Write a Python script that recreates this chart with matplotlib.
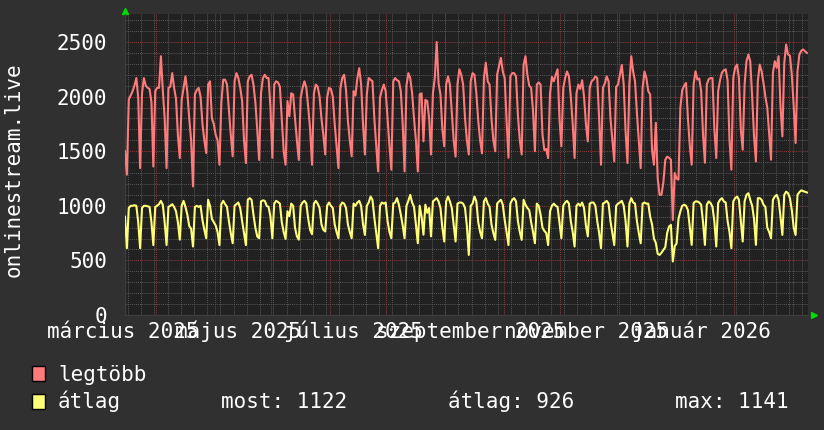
import matplotlib
matplotlib.use('Agg')
import matplotlib.pyplot as plt
from matplotlib.patches import Rectangle
import numpy as np
from datetime import datetime

plt.rcParams['font.family'] = 'DejaVu Sans Mono'

# daily values, one row per week (row ends on the weekend dip)
legtobb = [
    1500, 1285,
    1975, 2010, 2050, 2100, 2170, 1990, 1345,
    2030, 2170, 2100, 2080, 2070, 1950, 1360,
    2050, 2080, 2080, 2370, 2060, 1800, 1345,
    2080, 2090, 2215, 2080, 1980, 1650, 1437,
    1970, 2080, 2185, 2040, 1800, 1600, 1177,
    2020, 2060, 2080, 2000, 1750, 1600, 1483,
    2110, 2140, 1800, 1750, 1650, 1600, 1376,
    1945, 2155, 2155, 2110, 1880, 1650, 1453,
    2140, 2215, 2170, 2080, 1960, 1600, 1391,
    2140, 2185, 2200, 2110, 1950, 1700, 1420,
    2030, 2170, 2200, 2170, 2170, 1900, 1440,
    2110, 2140, 2130, 2090, 1800, 1500, 1376,
    1960, 1820, 2030, 2020, 1800, 1600, 1420,
    1990, 2080, 2140, 2080, 1900, 1700, 1376,
    2030, 2110, 2090, 2000, 1800, 1650, 1470,
    1990, 2080, 2070, 2000, 1750, 1550, 1345,
    2070, 2170, 2200, 2060, 1780, 1600, 1453,
    2050, 2010, 2170, 2260, 2110, 1750, 1470,
    2020, 2170, 2155, 2140, 1800, 1550, 1315,
    1990, 2060, 2110, 2050, 1800, 1550, 1330,
    2140, 2170, 2150, 2140, 2050, 1750, 1315,
    2100, 2215, 2170, 2030, 1800, 1600, 1315,
    2020, 2030, 1590, 1970, 1960, 1800, 1470,
    2030, 2170, 2500, 2120, 2020, 1700, 1545,
    2110, 2185, 2110, 1850, 1600, 1450,
    2110, 2250, 2200, 2110, 1800, 1600, 1470,
    2140, 2215, 2200, 2030, 1780, 1600, 1480,
    2170, 2310, 2140, 2110, 1800, 1600, 1500,
    2200, 2280, 2355, 2230, 2170, 1780, 1440,
    2185, 2215, 2215, 2185, 1830, 1600, 1470,
    2290, 2370, 2200, 2100, 2080, 1870, 1500,
    2110, 2130, 2110, 1650, 1510, 1520, 1437,
    2030, 2180, 2140, 2200, 2250, 1800, 1545,
    2080, 2170, 2230, 2185, 2000, 1750, 1437,
    2030, 2110, 2070, 2150, 2000, 1750, 1590,
    2080, 2140, 2155, 2185, 2170, 1800, 1376,
    2080, 2120, 2185, 2140, 1800, 1600, 1407,
    2090, 2110, 2200, 2290, 2110, 1680, 1391,
    2110, 2370, 2230, 2140, 1850, 1600, 1345,
    2080, 2230, 2170, 2050, 2020, 1510, 1376,
    1760, 1250, 1100, 1100, 1214, 1420, 1450, 1440, 1422, 870,
    1300, 1250, 1240, 1900, 2060, 2100, 2125, 1800, 1550, 1376,
    2110, 2232, 2156, 2165, 2050, 1650, 1394,
    2110, 2160, 2170, 2170, 1700, 1437,
    2050, 2150, 2220, 2240, 2250, 2150, 1605, 1330,
    2170, 2265, 2293, 2170, 1697, 1514,
    2110, 2324, 2385, 2324, 2000, 1636, 1406,
    2140, 2293, 2232, 2125, 2000, 1900, 1667, 1422,
    2217, 2324, 2263, 2370, 1911, 1636,
    2308, 2477, 2385, 2375, 2200, 1911, 1575,
    2232, 2385, 2420, 2431, 2416, 2400,
]

atlag = [
    900, 612,
    980, 1000, 1000, 1005, 1000, 850, 612,
    980, 1000, 1000, 995, 990, 850, 640,
    990, 1000, 1015, 1045, 1010, 850, 640,
    990, 1000, 1015, 990, 950, 850, 690,
    1000, 1045, 990, 920, 815, 790, 627,
    990, 1000, 990, 1000, 870, 780, 703,
    1055, 1000, 880, 850, 820, 760, 640,
    1015, 1045, 1015, 990, 860, 750, 657,
    1000, 1015, 1030, 980, 860, 750, 640,
    1055, 1070, 1055, 920, 800, 720, 703,
    1040, 1050, 1045, 1000, 990, 900, 703,
    1020, 1045, 1035, 1020, 850, 760, 697,
    950, 905, 1020, 1000, 800, 720, 690,
    1000, 1030, 1045, 1020, 880, 780, 740,
    1020, 1045, 1020, 980, 830, 780, 765,
    1000, 1030, 1000, 980, 830, 760, 703,
    1000, 1030, 1020, 980, 830, 760, 703,
    1020, 1000, 1030, 1045, 1000, 830, 733,
    1000, 1030, 1085, 1055, 890, 750, 612,
    1000, 1030, 1020, 1030, 860, 760, 703,
    1020, 1030, 1070, 1010, 920, 820, 703,
    1000, 1045, 1100, 1030, 990, 830, 657,
    1000, 900, 735, 1010, 935, 980, 720,
    1040, 1055, 1070, 1040, 980, 800, 673,
    1040, 1085, 1040, 980, 830, 673,
    1020, 1030, 1030, 1020, 980, 810, 550,
    1000, 1020, 1085, 1040, 850, 760, 703,
    1040, 1070, 1020, 990, 830, 750, 688,
    1020, 1040, 1055, 1010, 870, 760, 640,
    1020, 1055, 1070, 1040, 860, 760, 688,
    1055, 1010, 980, 960, 850, 760, 657,
    1020, 1000, 920, 800, 770, 750, 640,
    950, 1000, 1020, 1000, 990, 850, 703,
    1000, 1030, 1045, 1020, 860, 760, 627,
    1000, 1020, 1000, 1030, 980, 820, 720,
    1020, 1030, 1030, 1000, 860, 750, 612,
    1020, 1030, 1045, 1020, 860, 750, 640,
    1000, 1020, 1030, 1045, 1000, 860, 627,
    1020, 1070, 1030, 1020, 860, 750, 657,
    1020, 1030, 1020, 1020, 900, 830, 700,
    660, 560, 550, 570, 596, 620, 750, 810, 825, 490,
    630, 655, 880, 950, 1000, 1010, 1000, 960, 800, 642,
    1025, 1040, 1040, 1030, 1010, 850, 642,
    1010, 1040, 1025, 990, 856, 627,
    1025, 1055, 1070, 1040, 1030, 860, 760, 612,
    1040, 1070, 1085, 1055, 860, 673,
    1040, 1100, 1115, 1055, 1000, 880, 642,
    1070, 1070, 1055, 1010, 990, 800, 760, 703,
    1055, 1085, 1100, 1055, 900, 733,
    1100, 1130, 1115, 1070, 960, 800, 733,
    1100, 1125, 1141, 1135, 1128, 1122,
]

series_names = ['legtöbb', 'átlag']
series_colors = ['#ff7b7b', '#ffff77']
stats_text = ['most: 1122', 'átlag: 926', 'max: 1141']
y_label = 'onlinestream.live'

month_labels = ['március 2025', 'május 2025', 'július 2025',
                'szeptember 2025', 'november 2025', 'január 2026']

# day 0 of the series
start = datetime(2025, 2, 12, 14, 24)


def day_of(dt):
    return (dt - start).total_seconds() / 86400.0


months = [datetime(2025, m, 1) for m in range(3, 13)] + [datetime(2026, 1, 1), datetime(2026, 2, 1)]
month_pos = [day_of(m) for m in months]
label_pos = [day_of(m) - 17.5 for m in months[0:12:2]]
week_pos = np.arange(1.5, 362, 7)

W, H = 824, 430
fig = plt.figure(figsize=(W / 100, H / 100), dpi=100, facecolor='#303030')
ax = fig.add_axes([125 / W, 115 / H, 683 / W, 301 / H])
ax.set_facecolor('#212121')

ax.set_xlim(0, 683 / 1.889)
ax.set_ylim(0, 301 / 0.1092)

dot = (0, (1, 1))
for v in range(100, 2800, 100):
    if v % 500:
        ax.axhline(v, color='#555555', lw=0.75, ls=dot, zorder=1)
for d in week_pos:
    ax.axvline(d, color='#555555', lw=0.75, ls=dot, zorder=1)
for v in range(500, 2800, 500):
    ax.axhline(v, color='#8a3a3a', lw=0.75, ls=dot, zorder=1)
for d in month_pos:
    ax.axvline(d, color='#8a3a3a', lw=0.75, ls=dot, zorder=1)

ax.plot(np.arange(len(legtobb)), legtobb, color=series_colors[0], lw=1.5, zorder=3)
ax.plot(np.arange(len(atlag)), atlag, color=series_colors[1], lw=1.5, zorder=3)

ax.set_yticks(range(0, 2501, 500))
ax.set_yticklabels([str(v) for v in range(0, 2501, 500)])
ax.set_xticks([])
ax.tick_params(length=0, labelsize=15, colors='white')
ax.tick_params(axis='y', pad=13)

# month labels on a common baseline (RRD style, they overlap)
for xp, t in zip(label_pos, month_labels):
    ax.text(xp, -23 / 301, t, transform=ax.get_xaxis_transform(), ha='center',
            va='baseline', color='white', fontsize=15, clip_on=False)

for s in ['top', 'right']:
    ax.spines[s].set_visible(False)
for s in ['left', 'bottom']:
    ax.spines[s].set_color('#3c3c3c')
    ax.spines[s].set_linewidth(1)

# green arrow heads at the axis ends
ax.plot([0], [1.0116], marker='^', ms=5, color='#00dd00', transform=ax.transAxes, clip_on=False)
ax.plot([1.0095], [0], marker='>', ms=5, color='#00dd00', transform=ax.transAxes, clip_on=False)

fig.text(14 / W, 1 - 170 / H, y_label, rotation=90, ha='center', va='center',
         color='white', fontsize=15)

# legend
fig.patches.append(Rectangle((32 / W, 1 - 381 / H), 13 / W, 15 / H, transform=fig.transFigure,
                             facecolor=series_colors[0], edgecolor='black', lw=1))
fig.patches.append(Rectangle((32 / W, 1 - 409 / H), 13 / W, 15 / H, transform=fig.transFigure,
                             facecolor=series_colors[1], edgecolor='black', lw=1))
fig.text(58 / W, 1 - 381 / H, series_names[0], color='white', fontsize=15, va='baseline')
fig.text(58 / W, 1 - 408 / H, series_names[1], color='white', fontsize=15, va='baseline')
for xp, t in zip([221, 448, 675], stats_text):
    fig.text(xp / W, 1 - 408 / H, t, color='white', fontsize=15, va='baseline')

fig.savefig('out.png', dpi=100, facecolor=fig.get_facecolor())
